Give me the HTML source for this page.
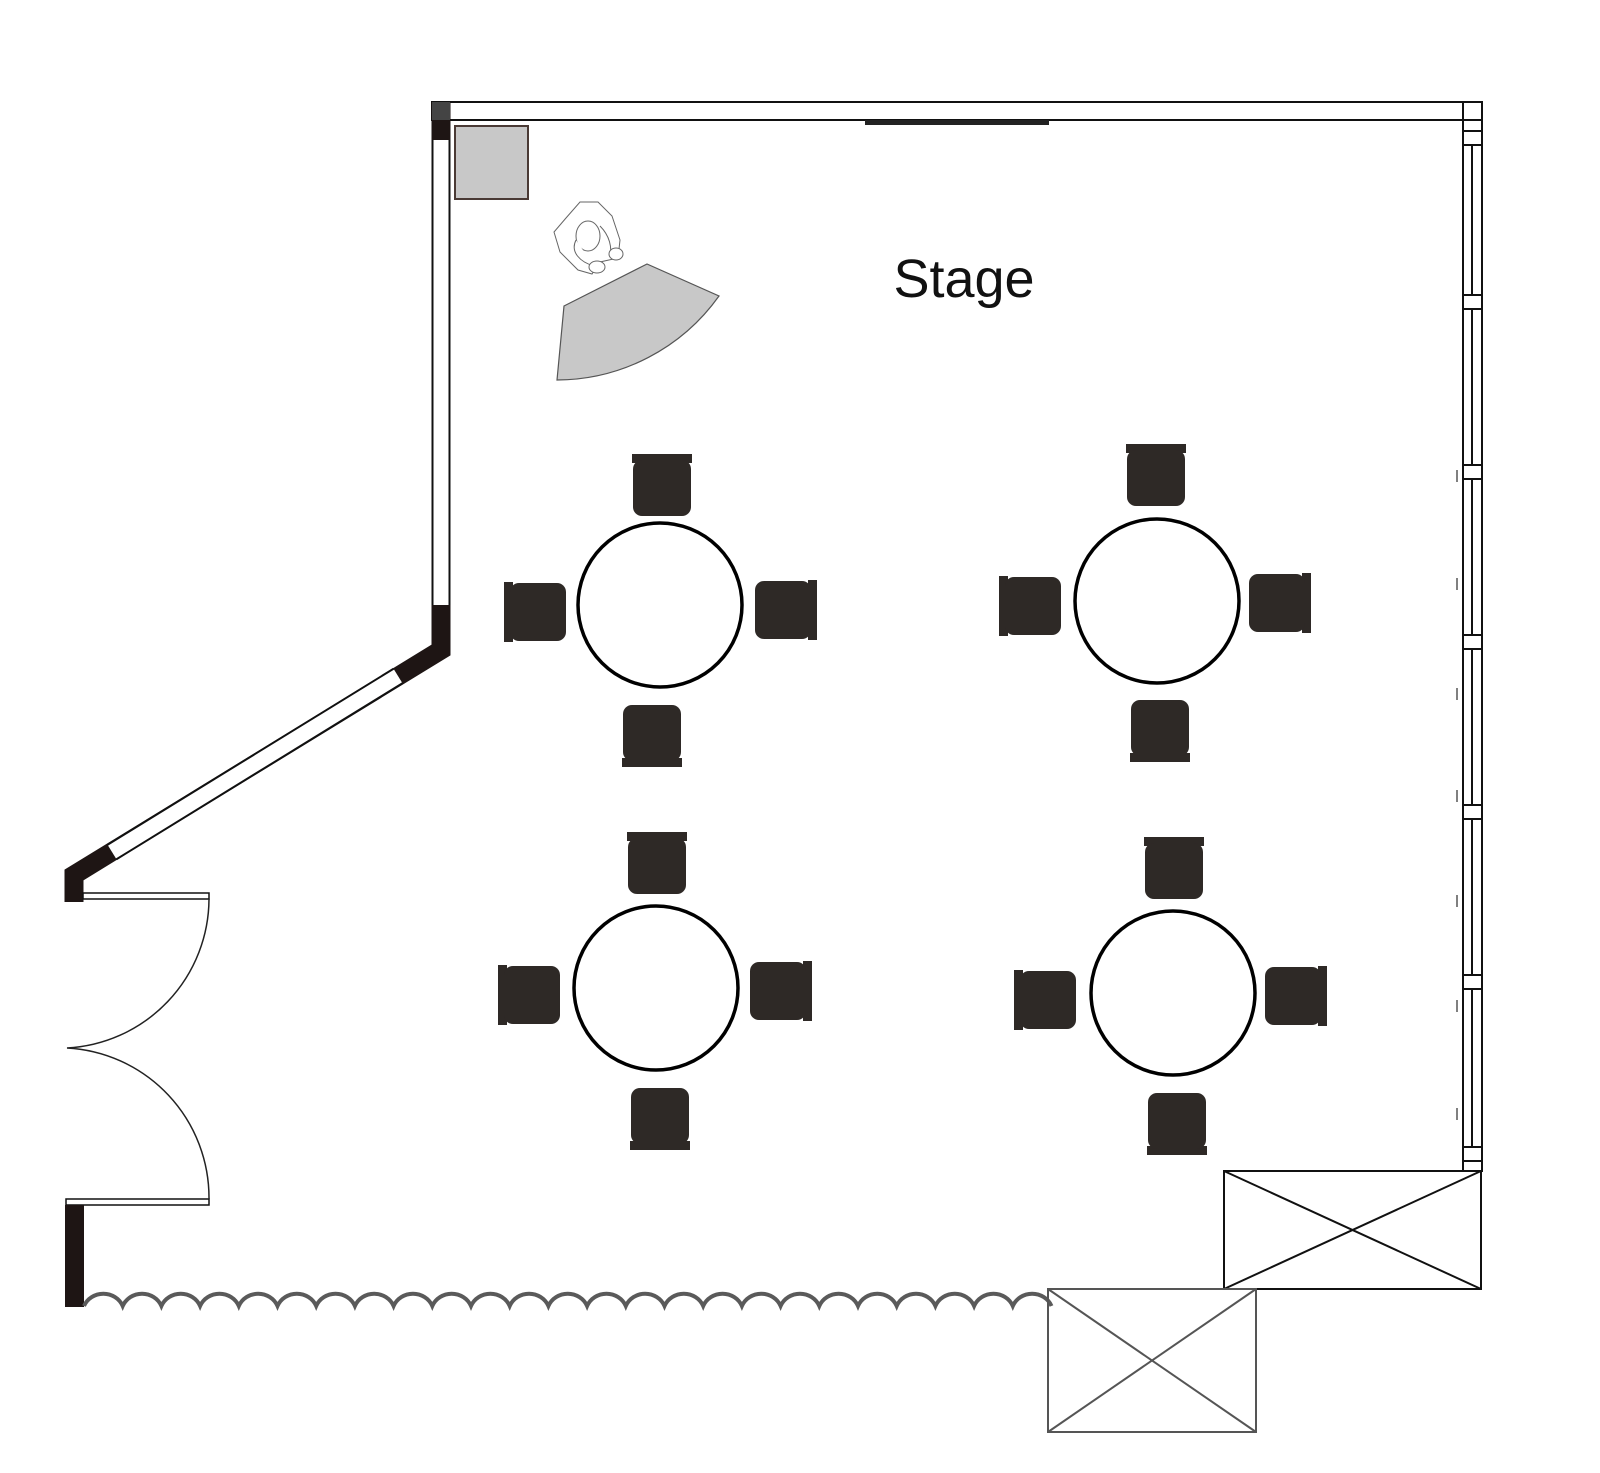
<!DOCTYPE html>
<html><head><meta charset="utf-8"><style>html,body{margin:0;padding:0;background:#fff}svg{display:block}</style></head>
<body>
<svg width="1600" height="1473" viewBox="0 0 1600 1473" xmlns="http://www.w3.org/2000/svg">
<defs>
<g id="ch">
<rect x="-30" y="-31" width="60" height="9" fill="#2e2926"/>
<rect x="-29" y="-25" width="58" height="56" rx="9" fill="#2e2926"/>
</g>
</defs>
<rect width="1600" height="1473" fill="#fff"/>

<!-- top wall -->
<rect x="432" y="102" width="1050" height="18" fill="#fff" stroke="#111" stroke-width="2"/>
<rect x="865" y="120" width="184" height="5" fill="#222"/>
<!-- right wall -->
<rect x="1463" y="102" width="19" height="1069" fill="#fff" stroke="#111" stroke-width="2"/>
<line x1="1463" y1="120" x2="1482" y2="120" stroke="#111" stroke-width="2"/>
<line x1="1472" y1="145" x2="1472" y2="1150" stroke="#111" stroke-width="2"/>
<g fill="#fff" stroke="#111" stroke-width="2">
<rect x="1463" y="131" width="19" height="14"/>
<rect x="1463" y="295" width="19" height="14"/>
<rect x="1463" y="465" width="19" height="14"/>
<rect x="1463" y="635" width="19" height="14"/>
<rect x="1463" y="805" width="19" height="14"/>
<rect x="1463" y="975" width="19" height="14"/>
<rect x="1463" y="1147" width="19" height="14"/>
</g>
<g stroke="#555" stroke-width="1.5">
<line x1="1457" y1="470" x2="1457" y2="482"/><line x1="1457" y1="578" x2="1457" y2="590"/>
<line x1="1457" y1="688" x2="1457" y2="700"/><line x1="1457" y1="790" x2="1457" y2="802"/>
<line x1="1457" y1="895" x2="1457" y2="907"/><line x1="1457" y1="1000" x2="1457" y2="1012"/>
<line x1="1457" y1="1108" x2="1457" y2="1120"/>
</g>

<!-- left & diagonal wall -->
<polyline points="441,102 441,650 74,875 74,902" fill="none" stroke="#1e1514" stroke-width="19" stroke-linejoin="miter"/>
<line x1="441" y1="140" x2="441" y2="605" stroke="#111" stroke-width="19"/>
<line x1="441" y1="140" x2="441" y2="605" stroke="#fff" stroke-width="15"/>
<line x1="398" y1="676" x2="112" y2="852" stroke="#111" stroke-width="19"/>
<line x1="398" y1="676" x2="112" y2="852" stroke="#fff" stroke-width="15"/>
<rect x="432" y="102" width="18" height="18" fill="#444"/>

<!-- doors -->
<rect x="83" y="893" width="126" height="6" fill="#fff" stroke="#111" stroke-width="1.5"/>
<rect x="66" y="1199" width="143" height="6" fill="#fff" stroke="#111" stroke-width="1.5"/>
<path d="M209,899 A150,150 0 0 1 67,1048 A150,150 0 0 1 209,1199" fill="none" stroke="#222" stroke-width="1.5"/>
<rect x="65" y="1205" width="19" height="102" fill="#1e1514"/>

<!-- curtain -->
<path d="M84,1306 a21 20 0 0 1 38.7 0 a21 20 0 0 1 38.7 0 a21 20 0 0 1 38.7 0 a21 20 0 0 1 38.7 0 a21 20 0 0 1 38.7 0 a21 20 0 0 1 38.7 0 a21 20 0 0 1 38.7 0 a21 20 0 0 1 38.7 0 a21 20 0 0 1 38.7 0 a21 20 0 0 1 38.7 0 a21 20 0 0 1 38.7 0 a21 20 0 0 1 38.7 0 a21 20 0 0 1 38.7 0 a21 20 0 0 1 38.7 0 a21 20 0 0 1 38.7 0 a21 20 0 0 1 38.7 0 a21 20 0 0 1 38.7 0 a21 20 0 0 1 38.7 0 a21 20 0 0 1 38.7 0 a21 20 0 0 1 38.7 0 a21 20 0 0 1 38.7 0 a21 20 0 0 1 38.7 0 a21 20 0 0 1 38.7 0 a21 20 0 0 1 38.7 0 a21 20 0 0 1 38.7 0" fill="none" stroke="#5a5a5a" stroke-width="4"/>

<!-- boxes -->
<g fill="#fff" stroke="#111" stroke-width="2">
<rect x="1224" y="1171" width="257" height="118"/>
<line x1="1224" y1="1171" x2="1481" y2="1289"/><line x1="1224" y1="1289" x2="1481" y2="1171"/>
</g>
<g fill="none" stroke="#555" stroke-width="2">
<rect x="1048" y="1289" width="208" height="143"/>
<line x1="1048" y1="1289" x2="1256" y2="1432"/><line x1="1048" y1="1432" x2="1256" y2="1289"/>
</g>

<!-- stage equipment -->
<rect x="455" y="126" width="73" height="73" fill="#c8c8c8" stroke="#4a3a35" stroke-width="2"/>
<path d="M564,306 L647,264 L719,296 A200,200 0 0 1 557,380 Z" fill="#c8c8c8" stroke="#555" stroke-width="1.2"/>
<g fill="#fff" stroke="#666" stroke-width="1">
<path d="M566,218 L580,202 L598,202 L612,216 L620,240 L618,258 L600,262 L592,274 L578,270 L560,252 L554,232 Z"/>
<ellipse cx="588" cy="236" rx="12" ry="15"/>
<path d="M576,240 C570,252 580,262 594,266 M600,226 C610,236 612,248 610,256"/>
<ellipse cx="616" cy="254" rx="7" ry="6"/>
<ellipse cx="597" cy="267" rx="8" ry="6"/>
</g>

<text x="964" y="297" text-anchor="middle" font-family="Liberation Sans, Arial, sans-serif" font-size="54" fill="#111">Stage</text>

<!-- tables -->
<g fill="#fff" stroke="#000" stroke-width="3.5">
<circle cx="660" cy="605" r="82"/>
<circle cx="1157" cy="601" r="82"/>
<circle cx="656" cy="988" r="82"/>
<circle cx="1173" cy="993" r="82"/>
</g>
<use href="#ch" transform="translate(662,485)"/>
<use href="#ch" transform="translate(535,612) rotate(-90)"/>
<use href="#ch" transform="translate(786,610) rotate(90)"/>
<use href="#ch" transform="translate(652,736) rotate(180)"/>

<use href="#ch" transform="translate(1156,475)"/>
<use href="#ch" transform="translate(1030,606) rotate(-90)"/>
<use href="#ch" transform="translate(1280,603) rotate(90)"/>
<use href="#ch" transform="translate(1160,731) rotate(180)"/>

<use href="#ch" transform="translate(657,863)"/>
<use href="#ch" transform="translate(529,995) rotate(-90)"/>
<use href="#ch" transform="translate(781,991) rotate(90)"/>
<use href="#ch" transform="translate(660,1119) rotate(180)"/>

<use href="#ch" transform="translate(1174,868)"/>
<use href="#ch" transform="translate(1045,1000) rotate(-90)"/>
<use href="#ch" transform="translate(1296,996) rotate(90)"/>
<use href="#ch" transform="translate(1177,1124) rotate(180)"/>
</svg>
</body></html>
